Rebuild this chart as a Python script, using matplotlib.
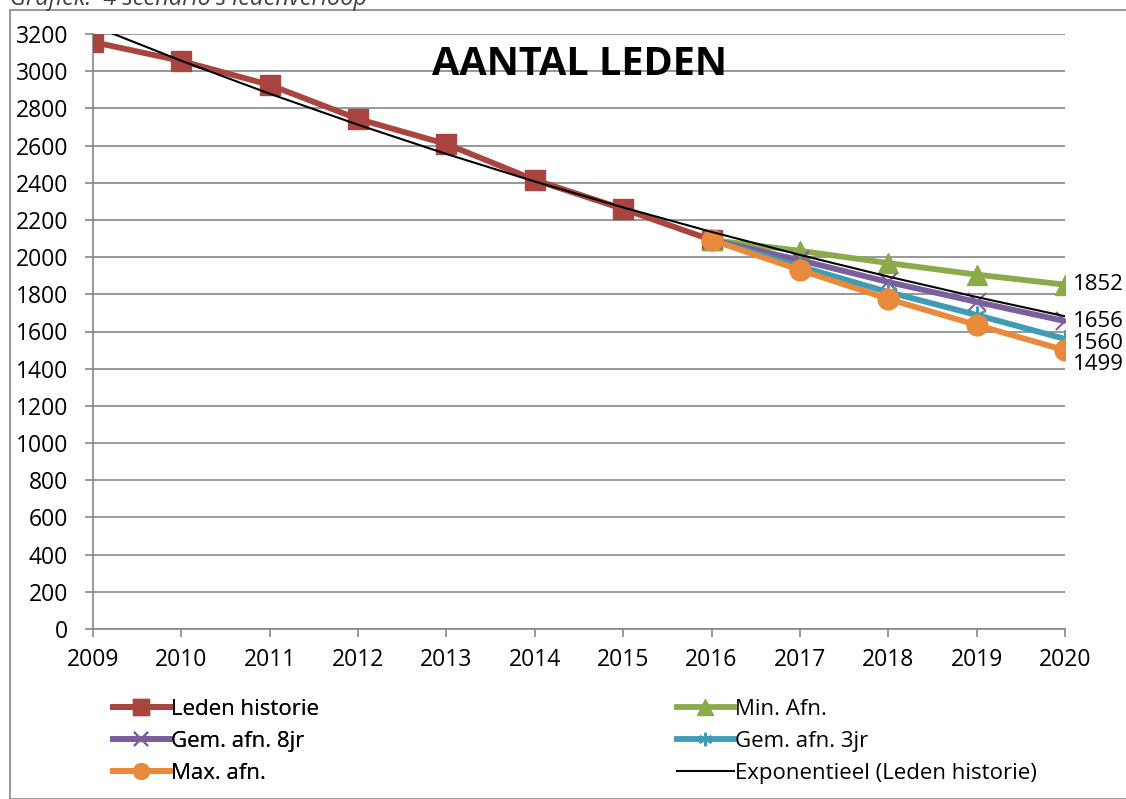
import numpy as np
import matplotlib
matplotlib.use('Agg')
import matplotlib.pyplot as plt
from matplotlib.patches import Rectangle

plt.rcParams['font.family'] = ['Open Sans', 'DejaVu Sans']

# data
years_hist = [2009, 2010, 2011, 2012, 2013, 2014, 2015, 2016]
leden = [3157, 3055, 2926, 2743, 2608, 2415, 2259, 2092]

years_prog = [2016, 2017, 2018, 2019, 2020]
min_afn = [2092, 2034, 1968, 1906, 1852]
gem_8jr = [2092, 1984, 1866, 1759, 1656]
gem_3jr = [2092, 1950, 1812, 1689, 1560]
max_afn = [2092, 1931, 1775, 1635, 1499]

years_all = list(range(2009, 2021))

colors = {'leden': '#A9443F', 'min': '#8BAA4A', 'gem8': '#7B5E9E',
          'gem3': '#3F9CB5', 'max': '#E8893B'}

fig = plt.figure(figsize=(11.26, 7.99), dpi=100)
ax = fig.add_axes([93 / 1126, 1 - 629 / 799, (1065 - 93) / 1126, (629 - 34) / 799])

lw = 4.2
h1, = ax.plot(years_hist, leden, color=colors['leden'], lw=lw, marker='s',
              markersize=15, label='Leden historie', zorder=3)
h2, = ax.plot(years_prog, min_afn, color=colors['min'], lw=lw, marker='^',
              markersize=15, label='Min. Afn.', zorder=3)
h3, = ax.plot(years_prog, gem_8jr, color=colors['gem8'], lw=lw, marker='x',
              markersize=13, markeredgewidth=1.5, label='Gem. afn. 8jr', zorder=3)
h4, = ax.plot(years_prog, gem_3jr, color=colors['gem3'], lw=lw, marker=(6, 2, 0),
              markersize=13, markeredgewidth=1.5, label='Gem. afn. 3jr', zorder=3)
h5, = ax.plot(years_prog, max_afn, color=colors['max'], lw=lw, marker='o',
              markersize=15, label='Max. afn.', zorder=3)

# exponential trendline over the history, extended to 2020
b, a = np.polyfit(years_hist, np.log(leden), 1)
trend = np.exp(a + b * np.array(years_all))
h6, = ax.plot(years_all, trend, color='black', lw=1.5,
              label='Exponentieel (Leden historie)', zorder=4)

# data labels at 2020
for vals, dy in [(min_afn, 0), (gem_8jr, 0), (gem_3jr, -3), (max_afn, -10)]:
    ax.annotate(str(vals[-1]), (years_prog[-1], vals[-1]), xytext=(6, dy),
                textcoords='offset points', va='center', ha='left',
                fontsize=16, annotation_clip=False)

ax.set_xlim(2009, 2020)
ax.set_ylim(0, 3200)
ax.set_xticks(years_all)
ax.set_yticks(range(0, 3201, 200))
ax.tick_params(axis='both', labelsize=16.5, color='#868686', length=6, width=1.2)
ax.tick_params(axis='y', pad=12)
ax.tick_params(axis='x', pad=8)
ax.grid(axis='y', color='#868686', lw=1.2)
ax.set_axisbelow(True)
for s in ['top', 'right']:
    ax.spines[s].set_visible(False)
for s in ['left', 'bottom']:
    ax.spines[s].set_color('#868686')
    ax.spines[s].set_linewidth(1.2)

ax.text(0.5, 0.982, 'AANTAL LEDEN', transform=ax.transAxes, ha='center',
        va='top', fontsize=28.5, fontweight='bold')

leg_kw = dict(loc='upper left', frameon=False, fontsize=16, handlelength=2.55,
              handletextpad=0.05, labelspacing=0.5, borderaxespad=0, markerscale=0.75)
leg1 = fig.legend(handles=[h1, h3, h5], bbox_to_anchor=(104 / 1126, 1 - 690 / 799), **leg_kw)
leg2 = fig.legend(handles=[h2, h4, h6], bbox_to_anchor=(668 / 1126, 1 - 690 / 799), **leg_kw)
fig.add_artist(leg1)

# chart area border and clipped caption
fig.add_artist(Rectangle((10 / 1126, 0), 1.2, 1 - 10 / 799, transform=fig.transFigure,
                         fill=False, edgecolor='#868686', lw=1.2))
fig.text(10 / 1126, 1 - 5 / 799, "Grafiek:  4 scenario's ledenverloop", fontsize=17,
         style='italic', color='#404040', va='baseline', ha='left')

fig.savefig('out.png', dpi=100)
